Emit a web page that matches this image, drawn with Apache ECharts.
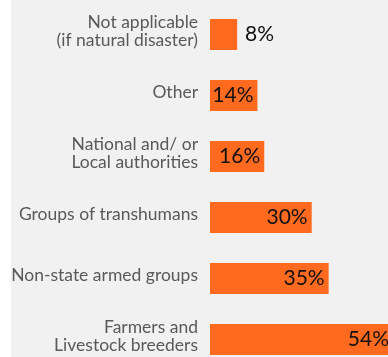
<!DOCTYPE html>
<html>
<head>
<meta charset="utf-8">
<style>
html, body { margin: 0; padding: 0; background: #ffffff; overflow: hidden; }
#chart { width: 560px; height: 380px; }
</style>
<script src="https://cdn.jsdelivr.net/npm/echarts@6/dist/echarts.min.js"></script>
</head>
<body>
<div id="chart"></div>
<script type="text/javascript">
var categories = [
    'Not applicable\n(if natural disaster)',
    'Other',
    'National and/ or\nLocal authorities',
    'Groups of transhumans',
    'Non-state armed groups',
    'Farmers and\nLivestock breeders'
];
var values = [8, 14, 16, 30, 35, 54];

// chart div is wider/taller than the window on purpose: the picture is cropped
var myChart = echarts.init(document.getElementById('chart'));
var option = {
    animation: false,
    graphic: [{
        type: 'rect',
        left: 11, top: 0, z: -10,
        shape: { width: 549, height: 380 },
        style: { fill: '#f1f1f1' }
    }],
    grid: { left: 210, top: 4, width: 339, height: 366 },
    xAxis: {
        type: 'value', min: 0, max: 100,
        show: false
    },
    yAxis: {
        type: 'category',
        inverse: true,
        data: categories,
        axisLine: { show: false },
        axisTick: { show: false },
        axisLabel: {
            margin: 12,
            align: 'right',
            formatter: function (v) {
                return v.split('\n').map(function (s) { return '{a|' + s + '}'; }).join('\n') + '\n{gap|}';
            },
            rich: {
                a: {
                    color: '#595959',
                    fontFamily: 'Lato',
                    fontSize: 17.5,
                    lineHeight: 18
                },
                gap: { fontSize: 1, lineHeight: 7 }
            }
        }
    },
    series: [{
        type: 'bar',
        barWidth: 31,
        data: values.map(function (v, i) {
            return {
                value: v,
                label: i === 0 ? { position: 'right', distance: 8 } : {}
            };
        }),
        itemStyle: { color: '#ff6a1f' },
        label: {
            show: true,
            position: 'insideRight',
            distance: 4,
            formatter: '{c}%',
            color: '#111111',
            fontFamily: 'Lato',
            fontSize: 21
        }
    }]
};
myChart.setOption(option);
</script>
</body>
</html>
